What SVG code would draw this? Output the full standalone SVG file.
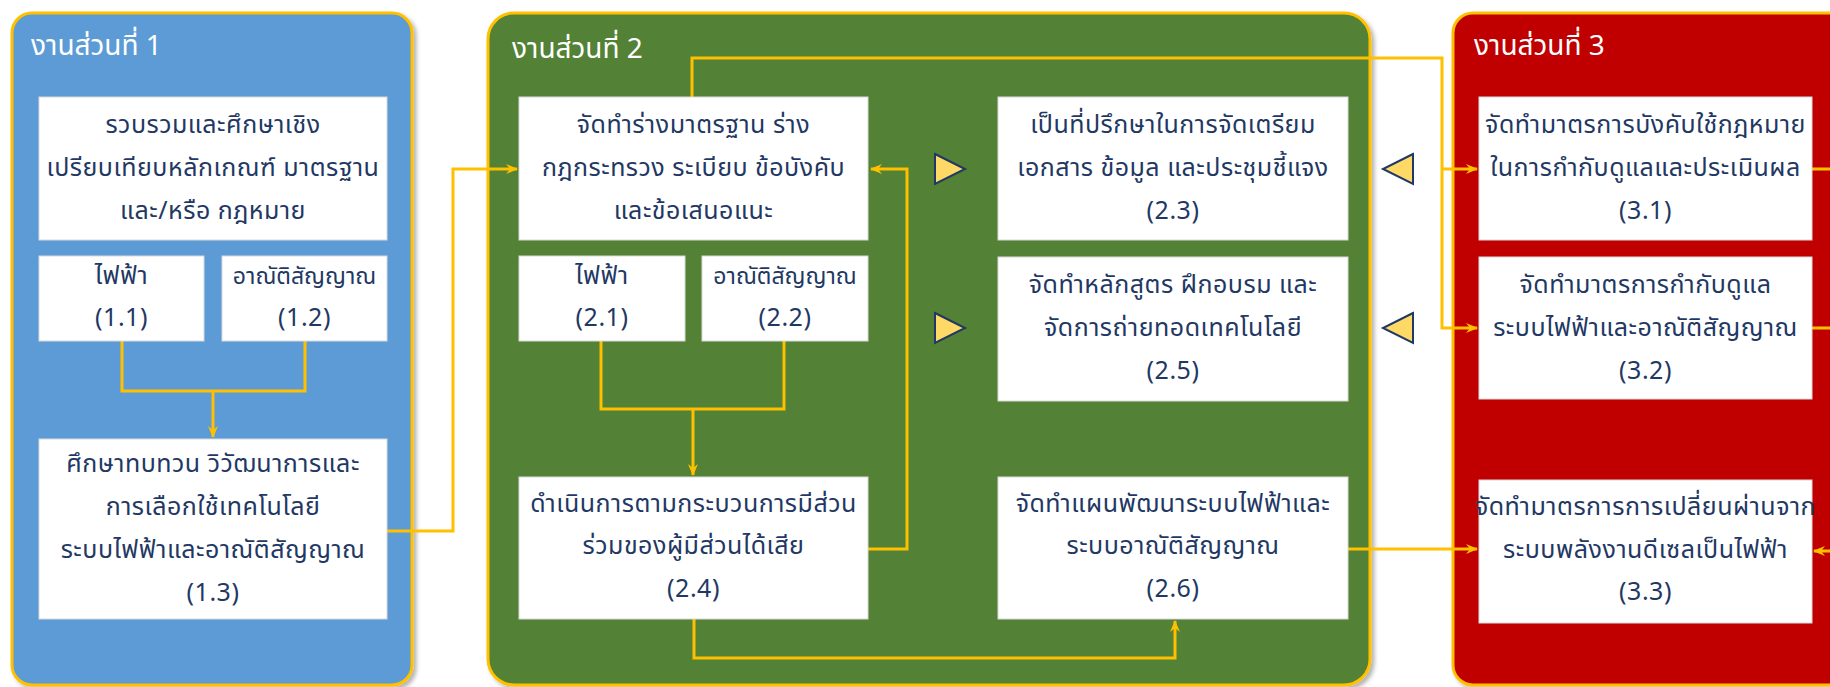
<svg xmlns="http://www.w3.org/2000/svg" width="1830" height="687" viewBox="0 0 1830 687">
<defs>
<style>
.panel{stroke:#FFC000;stroke-width:3}
.box{fill:#FFFFFF;stroke:#D9D9D9;stroke-width:1}
.t{font-family:"Noto Sans Thai","Tahoma","Noto Sans","DejaVu Sans",sans-serif;font-size:25px;letter-spacing:0.5px;fill:#1F3864;text-anchor:middle}
.s{font-size:23px;letter-spacing:0}
.title{font-family:"Noto Sans Thai","Tahoma","Noto Sans","DejaVu Sans",sans-serif;font-size:28px;fill:#FFFFFF}
.c{fill:none;stroke:#FFC000;stroke-width:3}
.tri{fill:#FFD966;stroke:#1F3864;stroke-width:2;stroke-linejoin:miter}
</style>
<marker id="arr" viewBox="0 0 12 10" refX="11" refY="5" markerWidth="12" markerHeight="10" markerUnits="userSpaceOnUse" orient="auto">
<path d="M0,0 L12,5 L0,10 L4,5 z" fill="#FFC000"/>
</marker>
<filter id="sh" x="-5%" y="-5%" width="115%" height="115%">
<feDropShadow dx="3" dy="3" stdDeviation="2" flood-color="#000" flood-opacity="0.3"/>
</filter>
</defs>
<rect width="1830" height="687" fill="#FFFFFF"/>

<g id="panel1">
<rect class="panel" x="12" y="13" width="400" height="672" rx="20" fill="#5B9BD5" filter="url(#sh)"/>
<text class="title" x="31" y="55">งานส่วนที่ 1</text>
</g>
<g id="panel2">
<rect class="panel" x="488" y="13" width="882" height="672" rx="26" fill="#538135" filter="url(#sh)"/>
<text class="title" x="512" y="58">งานส่วนที่ 2</text>
</g>
<g id="panel3">
<rect class="panel" x="1453" y="13" width="420" height="672" rx="20" fill="#C00000" filter="url(#sh)"/>
<text class="title" x="1474" y="55">งานส่วนที่ 3</text>
</g>

<g id="connectors">
<path class="c" d="M122,341 V391 H305 V341"/>
<path class="c" d="M213,391 V437" marker-end="url(#arr)"/>
<path class="c" d="M387,531 H453 V169 H517" marker-end="url(#arr)"/>
<path class="c" d="M601,341 V409 H784 V341"/>
<path class="c" d="M693,409 V475" marker-end="url(#arr)"/>
<path class="c" d="M868,549 H907 V169 H871" marker-end="url(#arr)"/>
<path class="c" d="M694,619 V658 H1175 V621" marker-end="url(#arr)"/>
<path class="c" d="M692,97 V58 H1442 V328 H1477" marker-end="url(#arr)"/>
<path class="c" d="M1442,169 H1477" marker-end="url(#arr)"/>
<path class="c" d="M1348,549 H1477" marker-end="url(#arr)"/>
<path class="c" d="M1812,169 H1830"/>
<path class="c" d="M1812,328 H1830"/>
<path class="c" d="M1830,551 H1814" marker-end="url(#arr)"/>
</g>

<g id="triangles">
<polygon class="tri" points="935,154 965,169 935,184"/>
<polygon class="tri" points="935,313 965,328 935,343"/>
<polygon class="tri" points="1413,154 1383,169 1413,184"/>
<polygon class="tri" points="1413,313 1383,328 1413,343"/>
</g>

<g id="n1">
<rect class="box" x="39" y="97" width="348" height="143"/>
<text class="t" x="213" y="133">รวบรวมและศึกษาเชิง</text>
<text class="t" x="213" y="176">เปรียบเทียบหลักเกณฑ์ มาตรฐาน</text>
<text class="t" x="213" y="219">และ/หรือ กฎหมาย</text>
</g>
<g id="n1_1">
<rect class="box" x="39" y="256" width="165" height="85"/>
<text class="t" x="121.5" y="284">ไฟฟ้า</text>
<text class="t" x="121.5" y="326">(1.1)</text>
</g>
<g id="n1_2">
<rect class="box" x="222" y="256" width="165" height="85"/>
<text class="t s" x="304.5" y="284">อาณัติสัญญาณ</text>
<text class="t" x="304.5" y="326">(1.2)</text>
</g>
<g id="n1_3">
<rect class="box" x="39" y="439" width="348" height="180"/>
<text class="t" x="213" y="472">ศึกษาทบทวน วิวัฒนาการและ</text>
<text class="t" x="213" y="515">การเลือกใช้เทคโนโลยี</text>
<text class="t" x="213" y="558">ระบบไฟฟ้าและอาณัติสัญญาณ</text>
<text class="t" x="213" y="601">(1.3)</text>
</g>

<g id="n2_0">
<rect class="box" x="519" y="97" width="349" height="143"/>
<text class="t" x="693.5" y="133">จัดทำร่างมาตรฐาน ร่าง</text>
<text class="t" x="693.5" y="176">กฎกระทรวง ระเบียบ ข้อบังคับ</text>
<text class="t" x="693.5" y="219">และข้อเสนอแนะ</text>
</g>
<g id="n2_1">
<rect class="box" x="519" y="256" width="166" height="85"/>
<text class="t" x="602" y="284">ไฟฟ้า</text>
<text class="t" x="602" y="326">(2.1)</text>
</g>
<g id="n2_2">
<rect class="box" x="702" y="256" width="166" height="85"/>
<text class="t s" x="785" y="284">อาณัติสัญญาณ</text>
<text class="t" x="785" y="326">(2.2)</text>
</g>
<g id="n2_3">
<rect class="box" x="998" y="97" width="350" height="143"/>
<text class="t" x="1173" y="133">เป็นที่ปรึกษาในการจัดเตรียม</text>
<text class="t" x="1173" y="176">เอกสาร ข้อมูล และประชุมชี้แจง</text>
<text class="t" x="1173" y="219">(2.3)</text>
</g>
<g id="n2_4">
<rect class="box" x="519" y="477" width="349" height="142"/>
<text class="t" x="693.5" y="512">ดำเนินการตามกระบวนการมีส่วน</text>
<text class="t" x="693.5" y="554">ร่วมของผู้มีส่วนได้เสีย</text>
<text class="t" x="693.5" y="597">(2.4)</text>
</g>
<g id="n2_5">
<rect class="box" x="998" y="257" width="350" height="144"/>
<text class="t" x="1173" y="293">จัดทำหลักสูตร ฝึกอบรม และ</text>
<text class="t" x="1173" y="336">จัดการถ่ายทอดเทคโนโลยี</text>
<text class="t" x="1173" y="379">(2.5)</text>
</g>
<g id="n2_6">
<rect class="box" x="998" y="477" width="350" height="142"/>
<text class="t" x="1173" y="512">จัดทำแผนพัฒนาระบบไฟฟ้าและ</text>
<text class="t" x="1173" y="554">ระบบอาณัติสัญญาณ</text>
<text class="t" x="1173" y="597">(2.6)</text>
</g>

<g id="n3_1">
<rect class="box" x="1479" y="97" width="333" height="143"/>
<text class="t" x="1645.5" y="133">จัดทำมาตรการบังคับใช้กฎหมาย</text>
<text class="t" x="1645.5" y="176">ในการกำกับดูแลและประเมินผล</text>
<text class="t" x="1645.5" y="219">(3.1)</text>
</g>
<g id="n3_2">
<rect class="box" x="1479" y="257" width="333" height="142"/>
<text class="t" x="1645.5" y="293">จัดทำมาตรการกำกับดูแล</text>
<text class="t" x="1645.5" y="336">ระบบไฟฟ้าและอาณัติสัญญาณ</text>
<text class="t" x="1645.5" y="379">(3.2)</text>
</g>
<g id="n3_3">
<rect class="box" x="1479" y="480" width="333" height="143"/>
<text class="t" x="1645.5" y="515">จัดทำมาตรการการเปลี่ยนผ่านจาก</text>
<text class="t" x="1645.5" y="558">ระบบพลังงานดีเซลเป็นไฟฟ้า</text>
<text class="t" x="1645.5" y="600">(3.3)</text>
</g>
</svg>
